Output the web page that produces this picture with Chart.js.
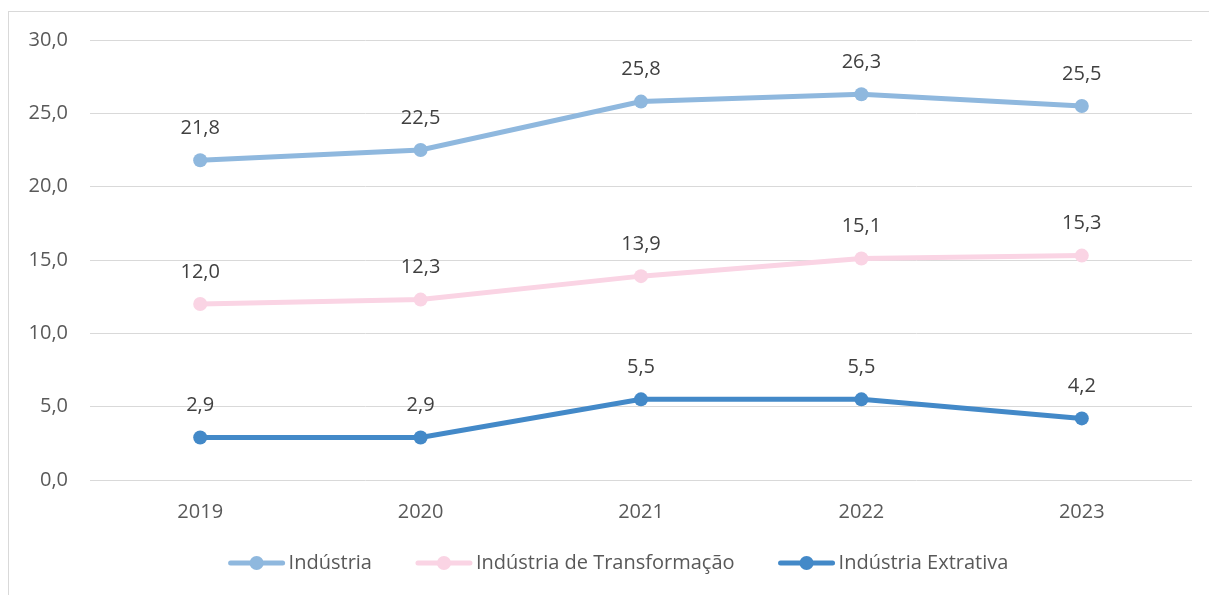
<!DOCTYPE html>
<html>
<head>
<meta charset="utf-8">
<script src="https://cdn.jsdelivr.net/npm/chart.js@4"></script>
<style>
  html, body { margin: 0; padding: 0; background: #fff; }
  #frame { position: absolute; left: 8px; top: 11px; width: 1300px; height: 700px;
           border-left: 1px solid #D9D9D9; border-top: 1px solid #D9D9D9; }
  #wrap { position: absolute; left: 0; top: 0; width: 1209px; height: 595px; }
</style>
</head>
<body>
<div id="frame"></div>
<div id="wrap"><canvas id="chart" width="1209" height="595"></canvas></div>
<script>
// data
const years = ['2019', '2020', '2021', '2022', '2023'];
const industria = [21.8, 22.5, 25.8, 26.3, 25.5];
const transformacao = [12.0, 12.3, 13.9, 15.1, 15.3];
const extrativa = [2.9, 2.9, 5.5, 5.5, 4.2];
const seriesNames = ['Indústria', 'Indústria de Transformação', 'Indústria Extrativa'];
const seriesColors = ['#8FB8DE', '#FAD4E4', '#4389C8'];

const fontFamily = '"Open Sans", "Noto Sans", sans-serif';
const fontSize = 20;
const textColor = '#595959';

function fmt(v) {
  return v.toFixed(1).replace('.', ',');
}

// value labels above each point
const valueLabels = {
  id: 'valueLabels',
  afterDatasetsDraw(chart) {
    const ctx = chart.ctx;
    ctx.save();
    ctx.font = fontSize + 'px ' + fontFamily;
    ctx.fillStyle = '#404040';
    ctx.textAlign = 'center';
    ctx.textBaseline = 'middle';
    chart.data.datasets.forEach((ds, i) => {
      const meta = chart.getDatasetMeta(i);
      meta.data.forEach((pt, j) => {
        ctx.fillText(fmt(ds.data[j]), pt.x, pt.y - 32);
      });
    });
    ctx.restore();
  }
};

// legend under the axis: line with a dot, then the series name
const lineLegend = {
  id: 'lineLegend',
  afterDraw(chart) {
    const ctx = chart.ctx;
    const markerW = 58, gapText = 3, gapItem = 43;
    const y = 563;
    ctx.save();
    ctx.font = fontSize + 'px ' + fontFamily;
    const widths = chart.data.datasets.map(ds => markerW + gapText + ctx.measureText(ds.label).width);
    const total = widths.reduce((a, b) => a + b, 0) + gapItem * (widths.length - 1);
    let x = 618 - total / 2;
    chart.data.datasets.forEach((ds, i) => {
      ctx.strokeStyle = ds.borderColor;
      ctx.fillStyle = ds.borderColor;
      ctx.lineWidth = 5;
      ctx.lineCap = 'round';
      ctx.beginPath();
      ctx.moveTo(x + 3, y);
      ctx.lineTo(x + markerW - 3, y);
      ctx.stroke();
      ctx.beginPath();
      ctx.arc(x + markerW / 2, y, 7, 0, Math.PI * 2);
      ctx.fill();
      ctx.fillStyle = textColor;
      ctx.textAlign = 'left';
      ctx.textBaseline = 'middle';
      ctx.fillText(ds.label, x + markerW + gapText, y);
      x += widths[i] + gapItem;
    });
    ctx.restore();
  }
};

const datasets = [industria, transformacao, extrativa].map((vals, i) => ({
  label: seriesNames[i],
  data: vals,
  borderColor: seriesColors[i],
  backgroundColor: seriesColors[i],
  borderWidth: 5,
  pointRadius: 7,
  pointHoverRadius: 7,
  pointBorderWidth: 0,
  tension: 0,
  clip: false
}));

new Chart(document.getElementById('chart'), {
  type: 'line',
  data: { labels: years, datasets: datasets },
  options: {
    responsive: false,
    animation: false,
    events: [],
    layout: { padding: { left: 0, right: 17, top: 40, bottom: 55 } },
    scales: {
      x: {
        offset: true,
        grid: { display: false },
        border: { display: false },
        ticks: { color: textColor, font: { family: fontFamily, size: fontSize }, padding: 12 },
        afterFit(scale) { scale.height = 60; }
      },
      y: {
        min: 0,
        max: 30,
        ticks: {
          stepSize: 5,
          color: textColor,
          font: { family: fontFamily, size: fontSize },
          padding: 22,
          callback: v => fmt(v)
        },
        grid: { color: '#D9D9D9', lineWidth: 1, drawTicks: false },
        border: { display: false },
        afterFit(scale) { scale.width = 90; }
      }
    },
    plugins: {
      legend: { display: false },
      tooltip: { enabled: false }
    }
  },
  plugins: [valueLabels, lineLegend]
});
</script>
</body>
</html>
